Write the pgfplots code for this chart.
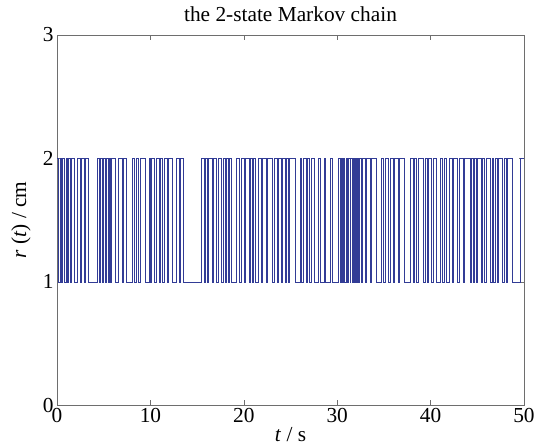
\documentclass[border=0pt]{standalone}
\usepackage{fontspec}
\setmainfont{Liberation Serif}
\usepackage{pgfplots}
\pgfplotsset{compat=1.18}
\definecolor{lineblue}{RGB}{50,60,150}
\definecolor{axgray}{RGB}{110,110,110}
\begin{document}
\begin{tikzpicture}
\begin{axis}[
  scale only axis,
  width=350pt, height=277.5pt,
  xmin=0, xmax=50, ymin=0, ymax=3,
  xtick={0,10,20,30,40,50},
  ytick={0,1,2,3},
  tick align=inside,
  major tick length=4pt,
  axis line style={axgray},
  tick style={axgray},
  every tick label/.append style={font=\fontsize{16}{18}\selectfont},
  /pgf/number format/assume math mode=true,
  xticklabel style={inner sep=2pt},
  yticklabel style={inner sep=2.5pt},
  title={the 2-state Markov chain},
  title style={at={(axis description cs:0.5,1)}, anchor=base, yshift=4pt, font=\fontsize{16}{18}\selectfont},
  xlabel={\textit{t} / s},
  ylabel={\textit{r} (\textit{t}) / cm},
  xlabel style={at={(axis description cs:0.5,0)}, anchor=base, yshift=-27pt, font=\fontsize{16}{18}\selectfont},
  ylabel style={at={(axis description cs:-0.0664,0.5)}, anchor=base, font=\fontsize{16}{18}\selectfont},
]
\coordinate (LL) at (rel axis cs:0,0);
\coordinate (UR) at (rel axis cs:1,1);
\addplot[const plot, lineblue, line width=0.45pt] coordinates {
(0,2)(0.15,1)(0.3,2)(0.45,1)(0.55,2)(0.8,1)(0.95,2)(1.05,1)(1.2,2)(1.4,1)(1.55,2)(1.9,1)
(2.2,2)(2.5,1)(2.6,2)(2.9,1)(3.0,2)(3.35,1)
(4.35,2)(4.5,1)(4.65,2)(4.9,1)(5.0,2)(5.15,1)(5.3,2)(5.45,1)(5.55,2)(5.7,1)(5.85,2)(6.2,1)
(6.6,2)(6.95,1)(7.05,2)(7.45,1)
(8.05,2)(8.3,1)(8.45,2)(8.75,1)(8.9,2)(9.4,1)
(9.85,2)(10.0,1)(10.1,2)(10.45,1)(10.6,2)(10.9,1)(11.05,2)(11.3,1)(11.45,2)(11.85,1)(11.95,2)(12.3,1)
(12.8,2)(13.05,1)(13.2,2)(13.5,1)
(15.5,2)(15.75,1)(15.9,2)(16.05,1)(16.2,2)(16.6,1)(16.75,2)(17.1,1)(17.25,2)(17.6,1)(17.75,2)(18.0,1)(18.1,2)(18.35,1)(18.45,2)(18.7,1)
(19.2,2)(19.55,1)(19.7,2)(20.0,1)(20.15,2)(20.6,1)(20.7,2)(20.95,1)(21.05,2)(21.2,1)
(21.6,2)(21.85,1)(22.0,2)(22.4,1)(22.55,2)(23.0,1)
(23.3,2)(23.55,1)(23.7,2)(24.0,1)(24.15,2)(24.45,1)(24.6,2)(24.75,1)(24.9,2)(25.5,1)
(26.0,2)(26.2,1)(26.35,2)(26.7,1)(26.85,2)(27.05,1)(27.2,2)(27.6,1)
(28.0,2)(28.15,1)(28.6,2)(28.75,1)(29.3,2)(29.5,1)
(30.1,2)(30.3,1)(30.4,2)(30.55,1)(30.7,2)(30.8,1)(30.95,2)(31.1,1)(31.2,2)(31.35,1)(31.45,2)(31.6,1)(31.7,2)(31.8,1)(31.9,2)(32.05,1)(32.15,2)(32.3,1)(32.4,2)(32.6,1)(32.7,2)(33.0,1)
(33.15,2)(33.5,1)(33.65,2)(34.2,1)
(34.7,2)(34.95,1)(35.1,2)(35.5,1)(35.65,2)(36.0,1)(36.15,2)(36.5,1)(36.65,2)(37.2,1)
(37.8,2)(38.1,1)(38.25,2)(38.5,1)(38.7,2)(39.2,1)
(39.4,2)(39.6,1)(39.75,2)(40.1,1)(40.25,2)(40.6,1)
(41.0,2)(41.3,1)(41.45,2)(41.7,1)
(42.0,2)(42.3,1)(42.45,2)(42.9,1)(43.05,2)(43.5,1)(43.65,2)(44.2,1)
(44.4,2)(44.55,1)(44.7,2)(44.85,1)(45.0,2)(45.4,1)(45.55,2)(45.8,1)(45.95,2)(46.4,1)
(46.6,2)(46.75,1)(46.9,2)(47.1,1)(47.25,2)(47.7,1)
(47.9,2)(48.1,1)(48.25,2)(48.8,1)(49.6,2)(50,2)
};
\end{axis}
\pgfresetboundingbox
\path[use as bounding box] ([xshift=-42.75pt,yshift=-30pt]LL) rectangle ([xshift=9pt,yshift=26.25pt]UR);
\end{tikzpicture}
\end{document}
